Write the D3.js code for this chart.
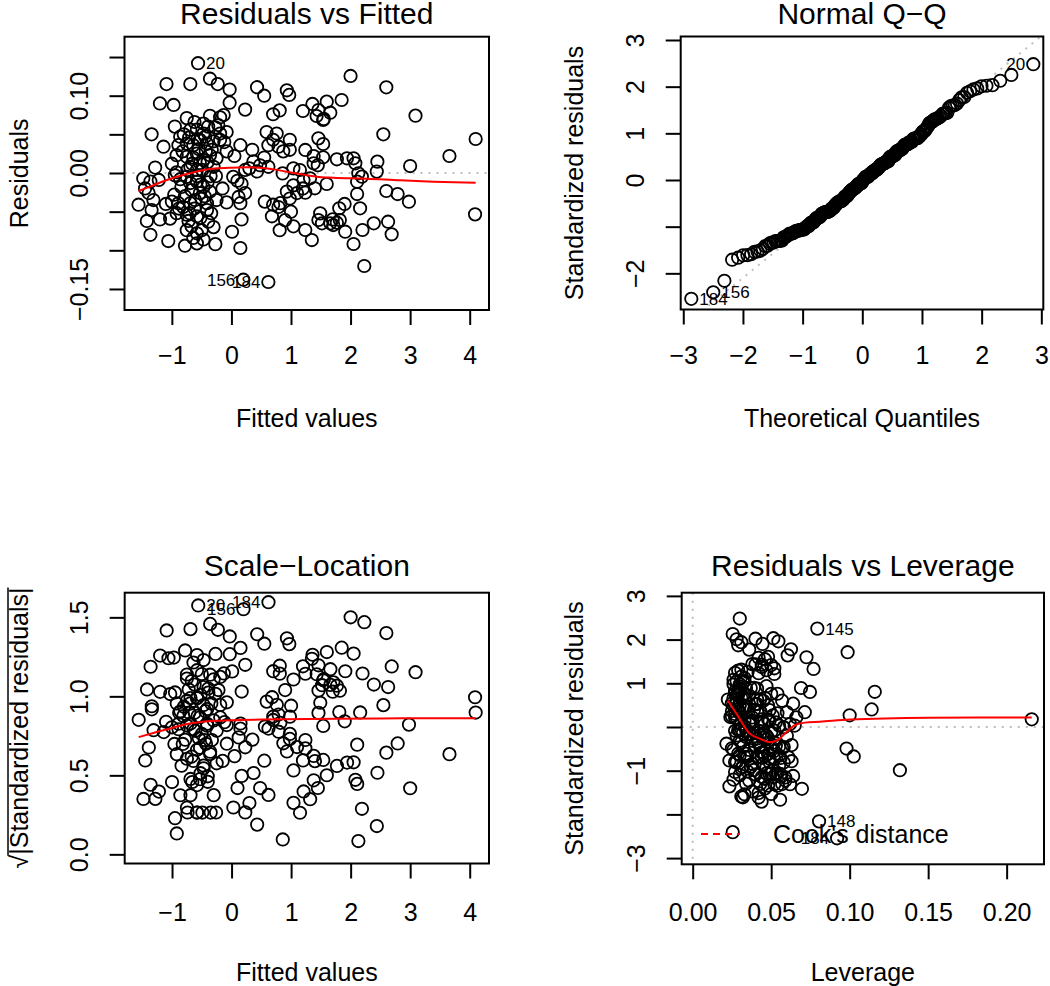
<!DOCTYPE html>
<html>
<head>
<meta charset="utf-8">
<script src="https://cdn.jsdelivr.net/npm/d3@7"></script>
<style>
body { margin: 0; background: #fff; }
text { font-family: "Liberation Sans", Arial, sans-serif; fill: #000; }
</style>
</head>
<body>
<script>
// lm diagnostics: one entry per observation, read off the four panels
// first five entries are the observations R labelled (20, 156, 184, 145, 148)
var obsNames = ['20', '156', '184', '145', '148'];

var fitted = [
  -0.56, 0.20, 0.62, 2.00, 2.23,
  -1.09, -0.69, -0.36, -0.23, -0.03, 0.43, 0.55, 0.93, 0.97, -1.20,
  -0.97, -0.03, 0.23, 0.70, 0.81, -0.75, -0.47, -0.36, -0.19, -0.13,
  -1.34, -1.14, -0.86, -0.69, -0.58, -0.47, -0.39, -0.27, -0.19, -0.08,
  -0.89, -0.75, -0.64, -0.53, -0.41, -0.30, -0.19, -0.08, 0.15, 0.59,
  0.76, 0.70, 0.98, 0.62, 0.79, 0.87, 0.98, -0.92, -0.75, -0.58,
  -0.47, -0.36, -0.25, -0.69, -0.53, -0.30, -1.28, -1.48, -1.36, -1.22,
  -0.95, -0.75, -0.58, -0.35, 0.03, 0.23, 0.37, 0.48, 0.43, 0.62,
  1.04, -0.69, -0.58, -0.47, -0.67, -0.53, -0.36, 0.17, 0.23, 0.86,
  1.04, -1.56, -1.39, -1.31, -1.34, -1.00, -0.89, -0.81, -0.69, -0.61,
  -0.50, -0.41, -0.08, 0.12, 0.15, 0.56, 0.70, 0.82, 0.93, 0.98,
  1.10, -1.42, -1.36, -1.03, -0.92, -0.75, -0.58, -0.41, -0.75, -0.67,
  -0.58, -0.50, -0.39, 0.01, 0.17, 0.68, 0.79, 0.90, 1.04, -1.06,
  -0.78, -0.58, -0.27, 0.15, 0.81,
  2.60, 3.09, 1.85, 1.36, 1.60, 1.46, 1.43, 1.54, 1.66, 1.20,
  2.55, 4.10, 1.46, 1.54, 1.24, 1.38, 1.54, 1.77, 1.94, 2.05,
  2.08, 1.38, 2.45, 3.00, 3.66, 1.15, 2.13, 2.19, 2.11, 2.44,
  1.21, 1.32, 1.60, 1.24, 1.40, 2.11, 2.16, 2.60, 2.79, 2.98,
  1.81, 1.49, 1.46, 1.52, 1.66, 1.71, 1.77, 1.82, 1.91, 1.24,
  1.35, 2.20, 2.39, 2.63, 2.69, 2.05, 4.09,
  -0.95, -0.82, -0.71, -0.62, -0.55, -0.44, -0.33, -0.22, -0.12, -0.66,
  -0.49, -0.40, -0.26, -0.84, -0.78, -0.62, -0.52, -0.45, -0.34, -0.72,
  -0.88, -0.96, -0.64, -0.47, -0.30, -0.58, -0.70, -1.10, -1.20, 0.05,
  0.10, 0.30, 0.55, 1.20, 1.45, 1.70, 1.90, 1.55, -1.00, -0.15,
  -0.92, -0.57, -0.40, -0.80, 1.00, -0.25, -1.45, 0.35, -0.86, -0.64,
  -0.52, -0.43, -0.74
];

var resid = [
  0.142, -0.138, -0.141, 0.1255, -0.1203,
  0.115, 0.115, 0.122, 0.115, 0.108, 0.111, 0.100, 0.107, 0.101, 0.090,
  0.088, 0.091, 0.082, 0.076, 0.081, 0.071, 0.064, 0.074, 0.072, 0.075,
  0.050, 0.034, 0.047, 0.056, 0.056, 0.051, 0.060, 0.059, 0.051, 0.053,
  0.036, 0.038, 0.036, 0.043, 0.038, 0.041, 0.043, 0.028, 0.036, 0.053,
  0.051, 0.043, 0.043, 0.036, 0.034, 0.028, 0.030, 0.023, 0.021, 0.025,
  0.017, 0.023, 0.019, 0.008, 0.013, 0.008, 0.007, -0.007, -0.011, -0.009,
  -0.003, -0.005, 0.004, -0.004, -0.005, 0.004, 0.015, 0.010, 0.002, 0.008,
  0.006, -0.013, -0.011, -0.018, -0.022, -0.026, -0.024, -0.014, -0.026, -0.0005,
  -0.016, -0.041, -0.026, -0.035, -0.048, -0.037, -0.039, -0.044, -0.039, -0.035,
  -0.033, -0.039, -0.038, -0.031, -0.039, -0.037, -0.041, -0.039, -0.024, -0.033,
  -0.026, -0.062, -0.080, -0.059, -0.052, -0.054, -0.056, -0.048, -0.074, -0.069,
  -0.078, -0.074, -0.063, -0.076, -0.060, -0.056, -0.044, -0.061, -0.069, -0.088,
  -0.094, -0.091, -0.092, -0.097, -0.074,
  0.1108, 0.0742, 0.0944, 0.0893, 0.0923, 0.0815, 0.0737, 0.0686, 0.078, 0.0802,
  0.050, 0.044, 0.0448, 0.0375, 0.0298, 0.022, 0.0203, 0.0177, 0.019, 0.019,
  0.0125, 0.0125, 0.0147, 0.009, 0.022, 0.0039, -0.0004, -0.0047, -0.0112, 0.0018,
  -0.009, -0.0069, -0.0142, -0.0254, -0.0198, -0.0272, -0.0457, -0.0233, -0.0272, -0.0371,
  -0.0457, -0.0522, -0.0608, -0.0651, -0.0651, -0.0673, -0.0643, -0.0608, -0.0759, -0.0737,
  -0.0867, -0.0737, -0.0651, -0.063, -0.0793, -0.0918, -0.0535,
  0.060, 0.028, 0.046, 0.066, 0.031, 0.047, 0.030, 0.062, 0.040, 0.012,
  0.004, 0.014, -0.004, -0.018, -0.030, -0.046, -0.058, -0.030, -0.052, -0.062,
  -0.046, -0.028, -0.084, -0.086, -0.070, -0.004, -0.052, -0.040, -0.060, 0.022,
  -0.010, 0.006, 0.020, -0.020, 0.010, -0.060, -0.040, 0.070, 0.012, -0.020,
  0.001, 0.044, -0.012, 0.050, -0.050, -0.035, -0.020, 0.030, -0.008, 0.020,
  -0.015, 0.028, 0.004
];

var leverage = [
  0.030, 0.0255, 0.092, 0.0794, 0.0805,
  0.028, 0.0514, 0.0255, 0.040, 0.0445, 0.031, 0.0626, 0.029, 0.036, 0.042,
  0.046, 0.048, 0.038, 0.052, 0.044, 0.027, 0.033, 0.029, 0.035, 0.031,
  0.041, 0.045, 0.027, 0.030, 0.026, 0.034, 0.028, 0.032, 0.037, 0.030,
  0.0224, 0.031, 0.028, 0.033, 0.026, 0.036, 0.029, 0.034, 0.041, 0.047,
  0.039, 0.054, 0.050, 0.043, 0.057, 0.048, 0.064, 0.029, 0.025, 0.032,
  0.027, 0.035, 0.030, 0.033, 0.024, 0.038, 0.044, 0.039, 0.047, 0.036,
  0.031, 0.027, 0.036, 0.029, 0.042, 0.046, 0.051, 0.044, 0.055, 0.049,
  0.053, 0.034, 0.028, 0.038, 0.0215, 0.032, 0.040, 0.045, 0.050, 0.058,
  0.047, 0.052, 0.043, 0.048, 0.038, 0.030, 0.035, 0.0234, 0.041, 0.029,
  0.044, 0.033, 0.046, 0.052, 0.042, 0.055, 0.049, 0.061, 0.053, 0.045,
  0.058, 0.040, 0.046, 0.027, 0.037, 0.031, 0.039, 0.045, 0.034, 0.026,
  0.0234, 0.043, 0.030, 0.048, 0.054, 0.051, 0.063, 0.056, 0.059, 0.033,
  0.0557, 0.031, 0.032, 0.0439, 0.052,
  0.0546, 0.077, 0.0987, 0.0725, 0.0605, 0.040, 0.047, 0.052, 0.044, 0.050,
  0.069, 0.116, 0.0747, 0.046, 0.041, 0.049, 0.043, 0.054, 0.060, 0.0714,
  0.066, 0.038, 0.100, 0.216, 0.114, 0.062, 0.058, 0.052, 0.060, 0.065,
  0.045, 0.050, 0.048, 0.055, 0.042, 0.057, 0.049, 0.063, 0.098, 0.1026,
  0.058, 0.047, 0.053, 0.044, 0.051, 0.046, 0.056, 0.049, 0.054, 0.057,
  0.050, 0.062, 0.059, 0.064, 0.0696, 0.042, 0.132,
  0.033, 0.026, 0.029, 0.031, 0.025, 0.030, 0.027, 0.026, 0.032, 0.028,
  0.031, 0.025, 0.034, 0.030, 0.036, 0.027, 0.035, 0.026, 0.037, 0.040,
  0.028, 0.025, 0.038, 0.042, 0.036, 0.030, 0.032, 0.044, 0.047, 0.039,
  0.043, 0.036, 0.041, 0.052, 0.048, 0.050, 0.056, 0.042, 0.027, 0.031,
  0.033, 0.027, 0.039, 0.030, 0.055, 0.034, 0.048, 0.040, 0.032, 0.029,
  0.041, 0.030, 0.037
];

var residualSE = 0.0581;

// which observations carry an id label in each panel
var idsRF = [0, 1, 2], idsQQ = [0, 1, 2], idsSL = [0, 1, 2], idsRL = [3, 4, 2];

// red smoother lines
var smoothRFx = [-1.56, -1.365, -1.085, -0.75, -0.526, -0.246, 0, 0.257, 0.481, 0.705, 0.928, 1.152, 1.432, 1.711, 2.27, 2.83, 3.39, 4.10];
var smoothRFy = [-0.0233, -0.0177, -0.009, -0.0013, 0.003, 0.006, 0.0069, 0.0073, 0.0069, 0.0047, 0.0017, -0.0013, -0.0047, -0.006, -0.0073, -0.0095, -0.0112, -0.0125];
var smoothSLx = [-1.56, -1.3, -1.0, -0.75, -0.5, -0.25, 0, 0.5, 1.25, 2.5, 4.1];
var smoothSLy = [0.742, 0.77, 0.80, 0.825, 0.838, 0.845, 0.849, 0.853, 0.857, 0.86, 0.862];
var smoothRLx = [0.0225, 0.029, 0.036, 0.043, 0.049, 0.0545, 0.060, 0.065, 0.0715, 0.081, 0.100, 0.151, 0.216];
var smoothRLy = [0.60, 0.24, -0.14, -0.27, -0.35, -0.29, -0.11, 0.04, 0.10, 0.12, 0.17, 0.21, 0.22];

// ticks and their labels (R leaves out the ones that would overlap)
var fittedTicks = [-1, 0, 1, 2, 3, 4], fittedLabels = ['\u22121', '0', '1', '2', '3', '4'];
var residTicks = [-0.15, -0.10, -0.05, 0, 0.05, 0.10, 0.15], residLabels = ['\u22120.15', '', '', '0.00', '', '0.10', ''];
var quantTicks = [-3, -2, -1, 0, 1, 2, 3], quantLabels = ['\u22123', '\u22122', '\u22121', '0', '1', '2', '3'];
var qqTicks = [-2, -1, 0, 1, 2, 3], qqLabels = ['\u22122', '', '0', '1', '2', '3'];
var slTicks = [0, 0.5, 1, 1.5], slLabels = ['0.0', '0.5', '1.0', '1.5'];
var levTicks = [0, 0.05, 0.10, 0.15, 0.20], levLabels = ['0.00', '0.05', '0.10', '0.15', '0.20'];
var rlTicks = [-3, -2, -1, 0, 1, 2, 3], rlLabels = ['\u22123', '', '\u22121', '', '1', '2', '3'];

// ---------------------------------------------------------------

// Acklam's inverse normal
function qnorm(p) {
	var a = [-3.969683028665376e+01, 2.209460984245205e+02, -2.759285104469687e+02, 1.383577518672690e+02, -3.066479806614716e+01, 2.506628277459239e+00];
	var b = [-5.447609879822406e+01, 1.615858368580409e+02, -1.556989798598866e+02, 6.680131188771972e+01, -1.328068155288572e+01];
	var c = [-7.784894002430293e-03, -3.223964580411365e-01, -2.400758277161838e+00, -2.549732539343734e+00, 4.374664141464968e+00, 2.938163982698783e+00];
	var d = [7.784695709041462e-03, 3.224671290700398e-01, 2.445134137142996e+00, 3.754408661907416e+00];
	var q, r;
	if (p < 0.02425) {
		q = Math.sqrt(-2 * Math.log(p));
		return (((((c[0]*q+c[1])*q+c[2])*q+c[3])*q+c[4])*q+c[5]) / ((((d[0]*q+d[1])*q+d[2])*q+d[3])*q+1);
	}
	if (p > 1 - 0.02425) return -qnorm(1 - p);
	q = p - 0.5; r = q * q;
	return (((((a[0]*r+a[1])*r+a[2])*r+a[3])*r+a[4])*r+a[5])*q / (((((b[0]*r+b[1])*r+b[2])*r+b[3])*r+b[4])*r+1);
}

var n = fitted.length;
var stdRes = resid.map(function (r, i) { return r / (residualSE * Math.sqrt(1 - leverage[i])); });
var sqrtAbs = stdRes.map(function (s) { return Math.sqrt(Math.abs(s)); });
var order = d3.range(n).sort(function (a, b) { return stdRes[a] - stdRes[b]; });
var theo = new Array(n);
order.forEach(function (idx, rank) { theo[idx] = qnorm((rank + 0.5) / n); });

var svg = d3.select('body').append('svg').attr('width', 1050).attr('height', 986);

var boxRF = {x0: 124.5, x1: 489, y0: 36.7, y1: 310};
var boxQQ = {x0: 680.7, x1: 1043.3, y0: 36.5, y1: 309.5};
var boxSL = {x0: 124.7, x1: 489, y0: 592.7, y1: 863.5};
var boxRL = {x0: 681.7, x1: 1044, y0: 592.7, y1: 864.3};

var xRF = d3.scaleLinear().domain([-1.795, 4.324]).range([boxRF.x0, boxRF.x1]);
var yRF = d3.scaleLinear().domain([-0.1772, 0.1763]).range([boxRF.y1, boxRF.y0]);
var xQQ = d3.scaleLinear().domain([-3.043, 3.033]).range([boxQQ.x0, boxQQ.x1]);
var yQQ = d3.scaleLinear().domain([-2.775, 3.075]).range([boxQQ.y1, boxQQ.y0]);
var xSL = d3.scaleLinear().domain([-1.795, 4.324]).range([boxSL.x0, boxSL.x1]);
var ySL = d3.scaleLinear().domain([-0.058, 1.656]).range([boxSL.y1, boxSL.y0]);
var xRL = d3.scaleLinear().domain([-0.0070, 0.2238]).range([boxRL.x0, boxRL.x1]);
var yRL = d3.scaleLinear().domain([-3.142, 3.073]).range([boxRL.y1, boxRL.y0]);

var clipCount = 0;

function frame(o) {
	var b = o.box, g = svg.append('g');

	var ax = g.append('g').attr('transform', 'translate(0,' + b.y1 + ')')
		.call(d3.axisBottom(o.x).tickValues(o.xTicks).tickSize(15).tickSizeOuter(0)
			.tickFormat(function (d, i) { return o.xLabels[i]; }));
	ax.select('.domain').remove();
	ax.selectAll('line').attr('stroke', '#000').attr('stroke-width', 2);
	ax.selectAll('text').attr('y', o.xLabY - b.y1).attr('dy', null).attr('font-size', 25);

	var ay = g.append('g').attr('transform', 'translate(' + b.x0 + ',0)')
		.call(d3.axisLeft(o.y).tickValues(o.yTicks).tickSize(15).tickSizeOuter(0)
			.tickFormat(function (d, i) { return o.yLabels[i]; }));
	ay.select('.domain').remove();
	ay.selectAll('line').attr('stroke', '#000').attr('stroke-width', 2);
	ay.selectAll('text').attr('x', 0).attr('y', -36.5).attr('dy', null)
		.attr('transform', 'rotate(-90)').attr('text-anchor', 'middle').attr('font-size', 25);

	g.append('text').attr('x', (b.x0 + b.x1) / 2).attr('y', o.titleY)
		.attr('text-anchor', 'middle').attr('font-size', 30).text(o.title);
	g.append('text').attr('x', (b.x0 + b.x1) / 2).attr('y', o.xTitleY)
		.attr('text-anchor', 'middle').attr('font-size', 25).text(o.xTitle);
	if (o.yTitle) {
		g.append('text').attr('transform', 'translate(' + o.yTitleX + ',' + (b.y0 + b.y1) / 2 + ') rotate(-90)')
			.attr('text-anchor', 'middle').attr('font-size', 25).text(o.yTitle);
	}

	var id = 'clip' + (clipCount++);
	svg.append('clipPath').attr('id', id).append('rect')
		.attr('x', b.x0).attr('y', b.y0).attr('width', b.x1 - b.x0).attr('height', b.y1 - b.y0);
	var inner = g.append('g');
	var clipped = inner.append('g').attr('clip-path', 'url(#' + id + ')');

	g.append('rect').attr('x', b.x0).attr('y', b.y0).attr('width', b.x1 - b.x0).attr('height', b.y1 - b.y0)
		.attr('fill', 'none').attr('stroke', '#000').attr('stroke-width', 2);

	return {g: inner, clip: clipped};
}

function dotted(g, x1, y1, x2, y2) {
	g.append('line').attr('x1', x1).attr('y1', y1).attr('x2', x2).attr('y2', y2)
		.attr('stroke', '#bebebe').attr('stroke-width', 2).attr('stroke-dasharray', '2,6');
}

function points(g, xs, ys, sx, sy) {
	g.selectAll(null).data(xs).enter().append('circle')
		.attr('cx', function (d) { return sx(d); })
		.attr('cy', function (d, i) { return sy(ys[i]); })
		.attr('r', 6.2).attr('fill', 'none').attr('stroke', '#000').attr('stroke-width', 1.8);
}

function smooth(g, xs, ys, sx, sy) {
	var line = d3.line()
		.x(function (d) { return sx(d); })
		.y(function (d, i) { return sy(ys[i]); })
		.curve(d3.curveMonotoneX);
	g.append('path').attr('d', line(xs)).attr('fill', 'none').attr('stroke', 'red').attr('stroke-width', 2);
}

// same rule as plot.lm: label to the right unless past the middle of the labelled x range
function ids(g, idx, xs, ys, sx, sy) {
	var lx = idx.map(function (i) { return xs[i]; });
	var mid = (d3.min(lx) + d3.max(lx)) / 2;
	idx.forEach(function (i) {
		var right = xs[i] <= mid;
		g.append('text').attr('x', sx(xs[i]) + (right ? 8 : -8)).attr('y', sy(ys[i])).attr('dy', '0.35em')
			.attr('text-anchor', right ? 'start' : 'end').attr('font-size', 17).text(obsNames[i]);
	});
}

// 1. Residuals vs Fitted
var p1 = frame({box: boxRF, x: xRF, y: yRF, xTicks: fittedTicks, xLabels: fittedLabels,
	yTicks: residTicks, yLabels: residLabels, xLabY: 364, title: 'Residuals vs Fitted', titleY: 23.5,
	xTitle: 'Fitted values', xTitleY: 427, yTitle: 'Residuals', yTitleX: 28});
dotted(p1.clip, boxRF.x0, yRF(0), boxRF.x1, yRF(0));
points(p1.g, fitted, resid, xRF, yRF);
smooth(p1.g, smoothRFx, smoothRFy, xRF, yRF);
ids(p1.g, idsRF, fitted, resid, xRF, yRF);

// 2. Normal Q-Q
var p2 = frame({box: boxQQ, x: xQQ, y: yQQ, xTicks: quantTicks, xLabels: quantLabels,
	yTicks: qqTicks, yLabels: qqLabels, xLabY: 364, title: 'Normal Q\u2212Q', titleY: 23.5,
	xTitle: 'Theoretical Quantiles', xTitleY: 427, yTitle: 'Standardized residuals', yTitleX: 583});
var sorted = order.map(function (i) { return stdRes[i]; });
var qy1 = d3.quantile(sorted, 0.25), qy2 = d3.quantile(sorted, 0.75);
var qx1 = qnorm(0.25), qx2 = qnorm(0.75);
var slope = (qy2 - qy1) / (qx2 - qx1), icpt = qy1 - slope * qx1;
dotted(p2.clip, xQQ(-3.1), yQQ(icpt + slope * -3.1), xQQ(3.1), yQQ(icpt + slope * 3.1));
points(p2.g, theo, stdRes, xQQ, yQQ);
ids(p2.g, idsQQ, theo, stdRes, xQQ, yQQ);

// 3. Scale-Location
var p3 = frame({box: boxSL, x: xSL, y: ySL, xTicks: fittedTicks, xLabels: fittedLabels,
	yTicks: slTicks, yLabels: slLabels, xLabY: 921, title: 'Scale\u2212Location', titleY: 576,
	xTitle: 'Fitted values', xTitleY: 981});
var slLab = svg.append('g').attr('transform', 'translate(28,' + (boxSL.y0 + boxSL.y1) / 2 + ') rotate(-90)');
var slText = slLab.append('text').attr('font-size', 25).text('|Standardized residuals|');
var tw = slText.node().getComputedTextLength(), rw = 14;
var startX = -(tw + rw) / 2 + rw;
slText.attr('x', startX);
slLab.append('text').attr('font-size', 25).attr('x', startX).attr('text-anchor', 'end').text('\u221a');
slLab.append('line').attr('x1', startX - 1).attr('x2', startX + tw).attr('y1', -20).attr('y2', -20)
	.attr('stroke', '#000').attr('stroke-width', 1.5);
points(p3.g, fitted, sqrtAbs, xSL, ySL);
smooth(p3.g, smoothSLx, smoothSLy, xSL, ySL);
ids(p3.g, idsSL, fitted, sqrtAbs, xSL, ySL);

// 4. Residuals vs Leverage
var p4 = frame({box: boxRL, x: xRL, y: yRL, xTicks: levTicks, xLabels: levLabels,
	yTicks: rlTicks, yLabels: rlLabels, xLabY: 921, title: 'Residuals vs Leverage', titleY: 576,
	xTitle: 'Leverage', xTitleY: 981, yTitle: 'Standardized residuals', yTitleX: 583});
dotted(p4.clip, boxRL.x0, yRL(0), boxRL.x1, yRL(0));
dotted(p4.clip, xRL(0), boxRL.y0, xRL(0), boxRL.y1);
points(p4.g, leverage, stdRes, xRL, yRL);
smooth(p4.g, smoothRLx, smoothRLy, xRL, yRL);
ids(p4.g, idsRL, leverage, stdRes, xRL, yRL);

// Cook's distance legend, bottom left
p4.g.append('line').attr('x1', 701).attr('x2', 740).attr('y1', 834).attr('y2', 834)
	.attr('stroke', 'red').attr('stroke-width', 2).attr('stroke-dasharray', '7,5');
p4.g.append('text').attr('x', 773).attr('y', 834).attr('dy', '0.35em').attr('font-size', 25).text('Cook\'s distance');
</script>
</body>
</html>
